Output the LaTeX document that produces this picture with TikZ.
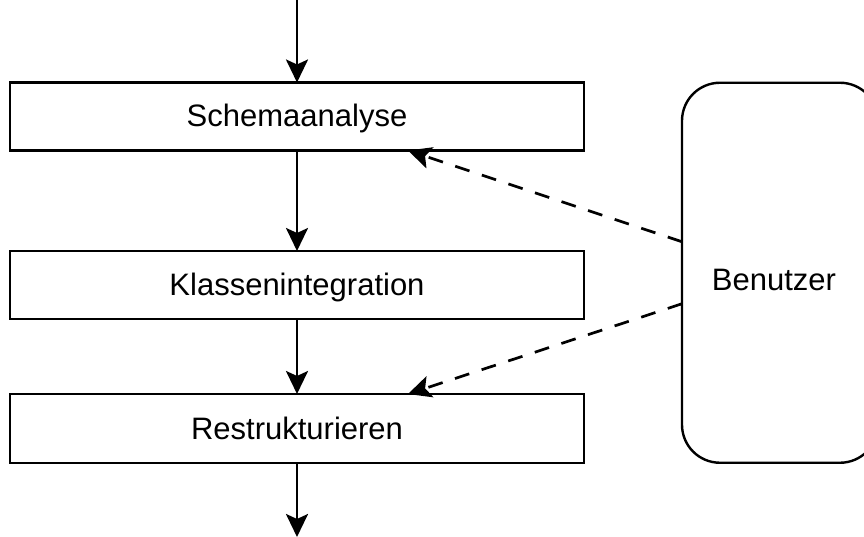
\documentclass[tikz,border=0pt]{standalone}
\usepackage{fontspec}
\setmainfont{Liberation Sans}
\usetikzlibrary{arrows.meta}
\begin{document}
\begin{tikzpicture}[x=1pt,y=-1pt,
  every node/.style={font=\fontsize{31}{37}\selectfont},
  stage/.style={draw, line width=2.7pt, inner sep=0pt, outer sep=0pt,
    minimum width=574pt, minimum height=68pt, text height=25pt, text depth=4pt},
  actor/.style={draw, line width=2.4pt, rounded corners=38pt, inner sep=0pt,
    outer sep=0pt, minimum width=196pt, minimum height=380pt},
  flow/.style={line width=2.7pt, -{Stealth[length=23pt,width=22pt,inset=5pt]}},
  hint/.style={line width=2.7pt, dash pattern=on 15pt off 13pt,
    -{Stealth[length=23pt,width=22pt,inset=5pt]}}]
  \useasboundingbox (0,0) rectangle (864,537);
  \clip (0,0) rectangle (864,537);

  % processing stages
  \node[stage] (s1) at (297,116.5) {Schemaanalyse};
  \node[stage] (s2) at (297,285) {Klassenintegration};
  \node[stage, minimum height=69pt] (s3) at (297,428.5) {Restrukturieren};

  % user, partly cut by the right border
  \node[actor] (ben) at (780,272.75) {};
  \node (benl) at (774,280) {Benutzer};

  % open ends of the flow
  \coordinate (in) at (297,0);
  \coordinate (out) at (297,537);

  % main flow
  \draw[flow] (in) -- (s1.north);
  \draw[flow] (s1.south) -- (s2.north);
  \draw[flow] (s2.south) -- (s3.north);
  \draw[flow] (s3.south) -- (out);

  % user interaction
  \draw[hint] ([yshift=31pt]ben.west) -- ([xshift=111pt]s1.south);
  \draw[hint] ([yshift=-31pt]ben.west) -- ([xshift=111pt]s3.north);
\end{tikzpicture}
\end{document}
